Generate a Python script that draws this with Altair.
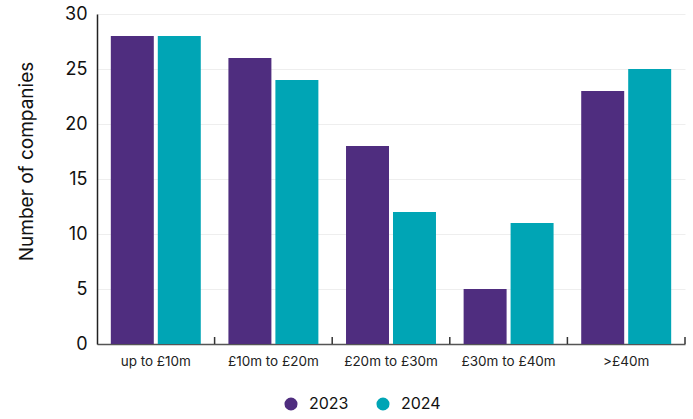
import altair as alt
import pandas as pd

# Companies by revenue band, two survey years
bands = ["up to £10m", "£10m to £20m", "£20m to £30m", "£30m to £40m", ">£40m"]
years = ["2023", "2024"]
counts_2023 = [28, 26, 18, 5, 23]
counts_2024 = [28, 24, 12, 11, 25]

rows = []
for band, a, b in zip(bands, counts_2023, counts_2024):
    rows.append({"band": band, "year": "2023", "count": a})
    rows.append({"band": band, "year": "2024", "count": b})
df = pd.DataFrame(rows)
band_df = pd.DataFrame({"band": bands})

FONT = "Inter"
WIDTH = 588
PAD_INNER = 0.235
x_scale = alt.Scale(paddingInner=PAD_INNER, paddingOuter=PAD_INNER / 2)
step = WIDTH / len(bands)

bars = (
    alt.Chart(df)
    .mark_bar()
    .encode(
        x=alt.X(
            "band:N",
            sort=bands,
            title=None,
            scale=x_scale,
            axis=alt.Axis(
                labelAngle=0,
                labelFontSize=13.5,
                labelFont=FONT,
                labelColor="#222222",
                labelPadding=10,
                ticks=False,
                domainColor="#555555",
                domainWidth=1.5,
            ),
        ),
        xOffset=alt.XOffset(
            "year:N", sort=years, scale=alt.Scale(paddingInner=0.085, paddingOuter=0)
        ),
        y=alt.Y(
            "count:Q",
            title="Number of companies",
            scale=alt.Scale(domain=[0, 30]),
            axis=alt.Axis(
                values=[0, 5, 10, 15, 20, 25, 30],
                labelFontSize=18,
                labelFont=FONT,
                labelColor="#111111",
                labelPadding=10,
                ticks=False,
                titleFont=FONT,
                titleFontSize=19,
                titleFontWeight="normal",
                titleColor="#111111",
                titlePadding=28,
                titleY=147,
                gridColor="#eeeeee",
                domainColor="#222222",
                domainWidth=1.5,
            ),
        ),
        color=alt.Color(
            "year:N",
            sort=years,
            scale=alt.Scale(domain=years, range=["#4F2D7F", "#00A5B5"]),
            legend=alt.Legend(
                title=None,
                orient="none",
                legendX=186,
                legendY=382,
                direction="horizontal",
                symbolType="circle",
                symbolSize=170,
                labelFont=FONT,
                labelFontSize=16,
                labelColor="#111111",
                columnPadding=26,
                labelOffset=10,
            ),
        ),
    )
)

# Short upward separator ticks on the baseline, midway between revenue bands
separators = (
    alt.Chart(band_df)
    .mark_rule(color="#333333", strokeWidth=1.5, xOffset=PAD_INNER * step / 2)
    .encode(
        x=alt.X("band:N", sort=bands, bandPosition=1),
        y=alt.value(323),
        y2=alt.value(330),
    )
)

chart = (
    alt.layer(bars, separators)
    .properties(
        width=WIDTH,
        height=330,
        padding={"left": 97, "top": 14, "right": 8, "bottom": 75},
        autosize=alt.AutoSizeParams(type="none"),
    )
    .configure_view(stroke=None)
)

chart.save("out.html", embed_options={"renderer": "svg", "actions": False})
